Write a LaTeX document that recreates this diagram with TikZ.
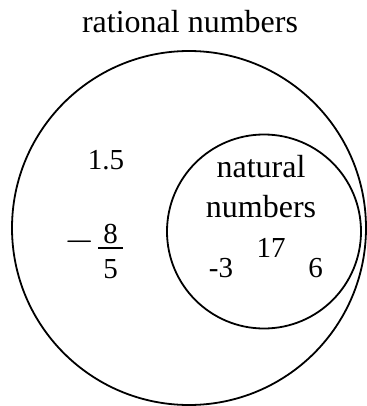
\RequirePackage{fix-cm}
\documentclass[tikz,border=0pt]{standalone}
\usepackage{fontspec}
\setmainfont{Liberation Serif}
\begin{document}
\begin{tikzpicture}[x=1pt,y=-1pt,
  setline/.style={draw=black, line width=1.8pt},
  word/.style={inner sep=0pt, anchor=base, font=\fontsize{32}{38}\selectfont},
  num/.style={inner sep=0pt, anchor=base, font=\fontsize{29}{34}\selectfont}]
\useasboundingbox (0,0) rectangle (366,406);
\draw[setline] (189,228) circle[radius=177pt];
\draw[setline] (264,231.5) circle[radius=97pt];
\node[word] (rat) at (190,33) {rational numbers};
\node[word] (nat1) at (261,177) {natural};
\node[word] (nat2) at (261,217) {numbers};
\node[num] (a) at (106,169) {1.5};
\node[inner sep=0pt, anchor=base, font=\fontsize{39}{44}\selectfont] (m) at (80,251.5) {$-$};
\node[num] (e) at (110.5,243) {8};
\node[num] (f) at (110.5,278) {5};
\draw[line width=1.3pt] (98,248) -- (123,248);
\node[num] (b) at (221,277) {-3};
\node[num] (c) at (271,257) {17};
\node[num] (d) at (315.5,277) {6};
\end{tikzpicture}
\end{document}
